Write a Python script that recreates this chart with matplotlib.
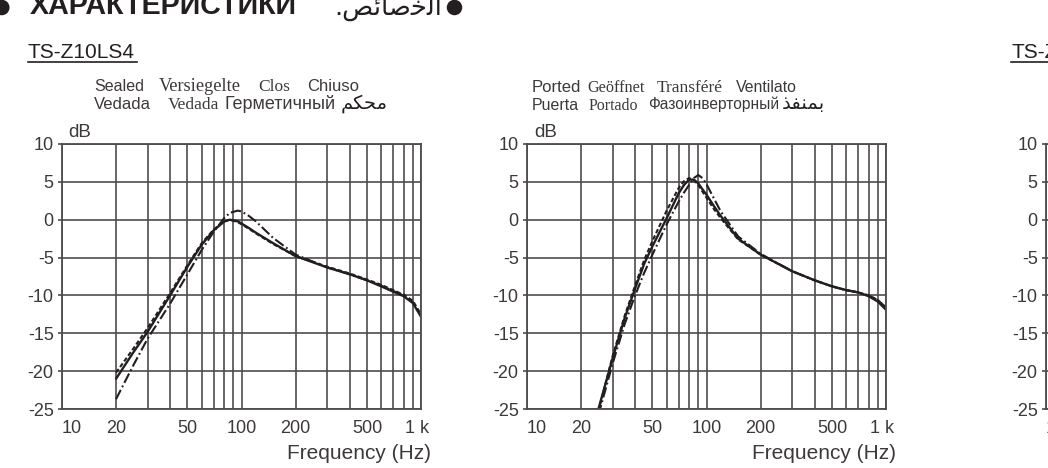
import matplotlib
matplotlib.use('Agg')
import matplotlib.pyplot as plt
from matplotlib.ticker import FixedLocator, NullFormatter
from matplotlib.lines import Line2D
from matplotlib.patches import Ellipse
import matplotlib.transforms as mtransforms

plt.rcParams['lines.scale_dashes'] = False

# ---------------- data ----------------
freq_sealed = [20, 25, 30, 40, 50, 60, 70, 80, 86, 95, 100, 110, 120, 150,
               200, 300, 400, 500, 600, 700, 800, 900, 1000]
sealed_solid = [-21.0, -17.5, -14.8, -10.0, -6.2, -3.3, -1.4, -0.25, 0.0, -0.2,
                -0.5, -1.1, -1.7, -3.1, -4.8, -6.3, -7.2, -8.0, -8.8, -9.5,
                -10.1, -11.0, -12.8]
sealed_dashed = [-20.2, -17.0, -14.3, -9.7, -6.0, -3.1, -1.3, -0.2, 0.0, -0.3,
                 -0.6, -1.2, -1.8, -3.2, -4.8, -6.2, -7.1, -7.9, -8.6, -9.3,
                 -9.9, -10.7, -12.5]
sealed_dashdot = [-23.7, -19.2, -15.7, -11.1, -7.2, -4.0, -1.6, 0.2, 0.9, 1.2,
                  1.1, 0.5, -0.2, -2.4, -4.6, -6.3, -7.2, -8.0, -8.7, -9.4,
                  -10.0, -10.9, -12.7]

freq_ported = [25, 30, 35, 40, 45, 50, 60, 70, 75, 80, 85, 90, 95, 100, 110,
               120, 150, 200, 300, 400, 500, 600, 700, 800, 900, 1000]
ported_solid = [-25.0, -18.3, -13.0, -9.1, -5.8, -3.5, 0.2, 3.5, 4.6, 5.3, 5.3,
                4.8, 4.0, 3.3, 1.8, 0.5, -2.5, -4.6, -6.8, -8.0, -8.8, -9.3,
                -9.6, -10.1, -10.8, -11.9]
ported_dashed = [-25.3, -18.0, -12.7, -8.7, -5.3, -2.8, 1.2, 4.2, 5.1, 5.5, 5.2,
                 4.6, 3.7, 2.9, 1.4, 0.2, -2.6, -4.6, -6.8, -8.0, -8.8, -9.3,
                 -9.6, -10.0, -10.6, -11.6]
ported_dashdot = [-25.8, -19.0, -13.8, -10.0, -7.0, -4.6, -0.6, 2.4, 3.6, 4.6,
                  5.5, 5.9, 5.5, 4.7, 2.8, 1.1, -2.2, -4.5, -6.8, -8.0, -8.8,
                  -9.3, -9.6, -10.0, -10.6, -11.6]

xtick_vals = [10, 20, 50, 100, 200, 500, 1000]
xtick_labels = ['10', '20', '50', '100', '200', '500', '1 k']
xminor_vals = [30, 40, 60, 70, 80, 90, 300, 400, 600, 700, 800, 900]
ytick_vals = [10, 5, 0, -5, -10, -15, -20, -25]
ytick_labels = ['10', '5', '0', '-5', '-10', '-15', '-20', '-25']

header_ru = 'ХАРАКТЕРИСТИКИ'
# Arabic in visual order using presentation forms (matplotlib has no shaping)
header_ar = '.\uFEBA\uFE8B\uFE8E\uFEBB\uFEA7\uFEDF\uFE8D'   # الخصائص.
model_left = 'TS-Z10LS4'
model_right = 'TS-Z10LS2'
sealed_line1 = ['Sealed', 'Versiegelte', 'Clos', 'Chiuso']
sealed_line2 = ['Vedada', 'Vedada', 'Герметичный', '\uFEE2\uFEDC\uFEA4\uFEE3']   # محكم
ported_line1 = ['Ported', 'Geöffnet', 'Transféré', 'Ventilato']
ported_line2 = ['Puerta', 'Portado', 'Фазоинверторный',
                '\uFEAC\uFED4\uFEE8\uFEE4\uFE91']                               # بمنفذ
ylabel_txt = 'dB'
xlabel_txt = 'Frequency (Hz)'

# ---------------- layout ----------------
W, H = 1048, 468
INK = '#231f20'
GREY = '#3d393a'
GRID = '#4f4b4c'
SANS = 'Liberation Sans'
SERIF = 'Liberation Serif'
AR = 'DejaVu Sans'

fig = plt.figure(figsize=(W / 100, H / 100), dpi=100)
fig.patch.set_facecolor('white')


def fx(x):
    return x / W


def fy(y):
    return 1 - y / H


def make_ax(x0, x1):
    ax = fig.add_axes([fx(x0), fy(409), (x1 - x0) / W, 265 / H])
    ax.set_xscale('log')
    ax.set_xlim(10, 1000)
    ax.set_ylim(-25, 10)
    ax.xaxis.set_major_locator(FixedLocator(xtick_vals))
    ax.set_xticklabels(xtick_labels)
    ax.xaxis.set_minor_locator(FixedLocator(xminor_vals))
    ax.xaxis.set_minor_formatter(NullFormatter())
    ax.yaxis.set_major_locator(FixedLocator(ytick_vals))
    ax.set_yticklabels(ytick_labels)
    ax.grid(True, which='both', color=GRID, lw=1.2)
    ax.set_axisbelow(True)
    ax.tick_params(which='minor', length=0)
    ax.tick_params(axis='x', which='major', length=0, pad=8)
    ax.tick_params(axis='y', which='major', length=3, width=1.2, color=GRID, pad=3)
    for lab in ax.get_xticklabels() + ax.get_yticklabels():
        lab.set_fontfamily(SANS)
        lab.set_fontsize(13)
        lab.set_color(GREY)
    xl = ax.get_xticklabels()
    xl[0].set_ha('left')
    xl[-1].set_transform(xl[-1].get_transform() +
                         mtransforms.ScaledTranslation(-4 / 100, 0, fig.dpi_scale_trans))
    for s in ax.spines.values():
        s.set_color(GRID)
        s.set_linewidth(1.3)
    return ax


ax1 = make_ax(62, 421)
ax2 = make_ax(527, 886)
ax3 = make_ax(1046, 1405)

solid_kw = dict(color=INK, lw=1.7, solid_capstyle='round')
dash_kw = dict(color=INK, lw=1.5, linestyle=(0, (3.2, 1.8)))
dashdot_kw = dict(color=INK, lw=1.5, linestyle=(0, (7.5, 2.2, 1.3, 2.2)))

ax1.plot(freq_sealed, sealed_dashed, **dash_kw)
ax1.plot(freq_sealed, sealed_dashdot, **dashdot_kw)
ax1.plot(freq_sealed, sealed_solid, **solid_kw)

ax2.plot(freq_ported, ported_dashed, **dash_kw)
ax2.plot(freq_ported, ported_dashdot, **dashdot_kw)
ax2.plot(freq_ported, ported_solid, **solid_kw)

# ---------------- texts ----------------
fig.text(fx(30), fy(13.5), header_ru, family=SANS, weight='bold', fontsize=20.6,
         color=INK, va='baseline', ha='left')
fig.text(fx(442), fy(15), header_ar, family=AR, fontsize=18.5, color=INK,
         va='baseline', ha='right')
for cx in (1.8, 454.5):
    fig.patches.append(Ellipse((fx(cx), fy(7.5)), 15.5 / W, 15.5 / H,
                               transform=fig.transFigure, color=INK, lw=0))


def model_title(x, text, width):
    fig.text(fx(x), fy(58), text, family=SANS, fontsize=15, color=INK,
             va='baseline', ha='left')
    fig.add_artist(Line2D([fx(x), fx(x + width)], [fy(61.5), fy(61.5)],
                          transform=fig.transFigure, color=INK, lw=1.2))


model_title(28, model_left, 109)
model_title(1011, model_right, 109)


def legend_line(words, fams, sizes, xs, y):
    for txt, fam, sz, x in zip(words, fams, sizes, xs):
        fig.text(fx(x), fy(y), txt, family=fam, fontsize=sz,
                 color=INK if fam == AR else GREY, va='baseline', ha='left')


legend_line(sealed_line1, [SANS, SERIF, SERIF, SANS], [11.6, 13.2, 12.5, 12],
            [94, 159, 258, 307], 91)
legend_line(sealed_line2, [SANS, SERIF, SANS, AR], [12, 12.5, 13, 14],
            [94, 168, 224, 341], 109)
legend_line(ported_line1, [SANS, SERIF, SERIF, SANS], [12, 11.7, 12.5, 11.4],
            [532, 587, 657, 736], 91.5)
legend_line(ported_line2, [SANS, SERIF, SANS, AR], [11.5, 11.5, 11.2, 14],
            [532, 589, 648, 782], 109.5)

for x in (68, 534):
    fig.text(fx(x), fy(137), ylabel_txt, family=SANS, fontsize=13.5, color=GREY,
             va='baseline', ha='left')
for x in (431, 896):
    fig.text(fx(x), fy(459), xlabel_txt, family=SANS, fontsize=15, color=GREY,
             va='baseline', ha='right')

fig.savefig('out.png', dpi=100, facecolor='white')
